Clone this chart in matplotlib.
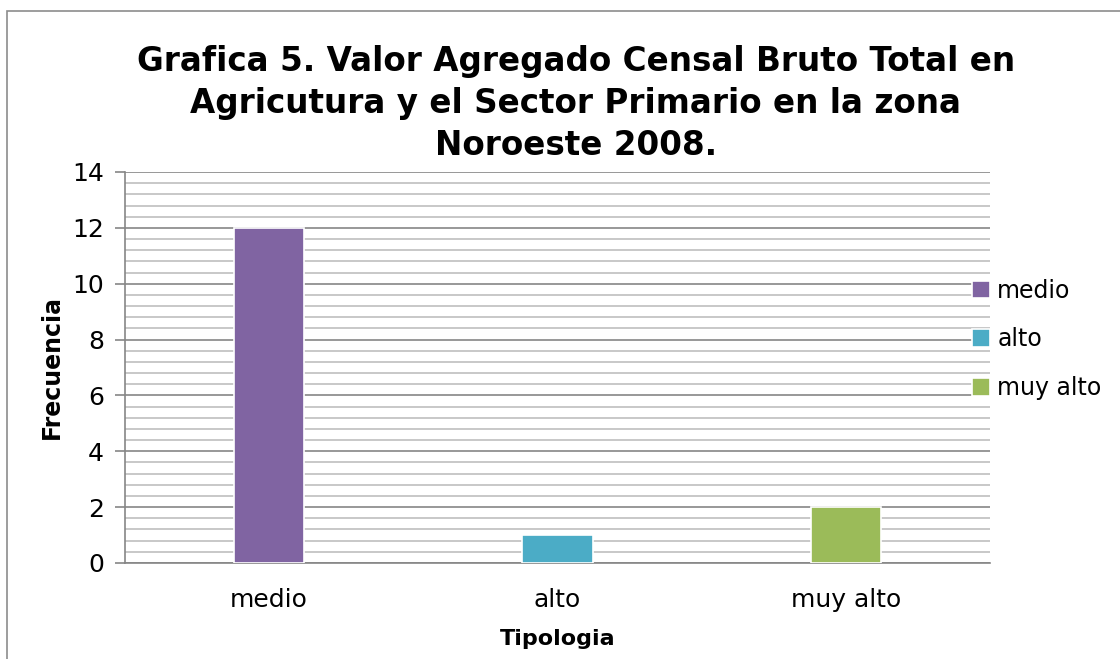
import matplotlib.pyplot as plt
from matplotlib.patches import Rectangle
from matplotlib.ticker import MultipleLocator

# data
categories = ['medio', 'alto', 'muy alto']
frecuencia = [12, 1, 2]
colores = ['#8064A2', '#4BACC6', '#9BBB59']

plt.rcParams['font.family'] = 'DejaVu Sans'

fig = plt.figure(figsize=(11.2, 6.59), dpi=100)
ax = fig.add_axes([0.1116, 0.1457, 0.7724, 0.5933])

# outer chart border (cut off at right/bottom like the screenshot)
fig.patches.append(Rectangle((7 / 1120, -0.05), 1.5, 1 - 11 / 659 + 0.05,
                             transform=fig.transFigure, fill=False,
                             edgecolor='#8c8c8c', linewidth=1.2))

x = range(len(categories))
bars = ax.bar(x, frecuencia, width=0.245, color=colores,
              edgecolor='white', linewidth=1.2, zorder=3, label=categories)

ax.set_xlim(-0.5, 2.5)
ax.set_ylim(0, 14)
ax.yaxis.set_major_locator(MultipleLocator(2))
ax.yaxis.set_minor_locator(MultipleLocator(0.4))
ax.grid(axis='y', which='major', color='#868686', linewidth=1.2, zorder=0)
ax.grid(axis='y', which='minor', color='#bfbfbf', linewidth=1.2, zorder=0)

ax.set_xticks(list(x))
ax.set_xticklabels(categories, fontsize=18)
ax.tick_params(axis='x', length=0, pad=18)
ax.tick_params(axis='y', which='major', labelsize=18, length=7,
               color='#868686', width=1.2, pad=8)
ax.tick_params(axis='y', which='minor', length=0)

for side in ['top', 'right']:
    ax.spines[side].set_visible(False)
for side in ['left', 'bottom']:
    ax.spines[side].set_color('#868686')
    ax.spines[side].set_linewidth(1.2)

ax.set_ylabel('Frecuencia', fontsize=17, fontweight='bold', labelpad=6)
ax.set_xlabel('Tipologia', fontsize=16, fontweight='bold', labelpad=12)

fig.text(0.514, 0.843, 'Grafica 5. Valor Agregado Censal Bruto Total en\n'
         'Agricutura y el Sector Primario en la zona\nNoroeste 2008.',
         ha='center', va='center', fontsize=23.5, fontweight='bold',
         linespacing=1.33)

ax.legend(handles=bars.patches, labels=categories, loc='center left',
          bbox_to_anchor=(0.955, 0.572), frameon=False, fontsize=17,
          handlelength=0.75, handleheight=0.75, handletextpad=0.3,
          labelspacing=1.05)

fig.savefig('out.png', dpi=100)
